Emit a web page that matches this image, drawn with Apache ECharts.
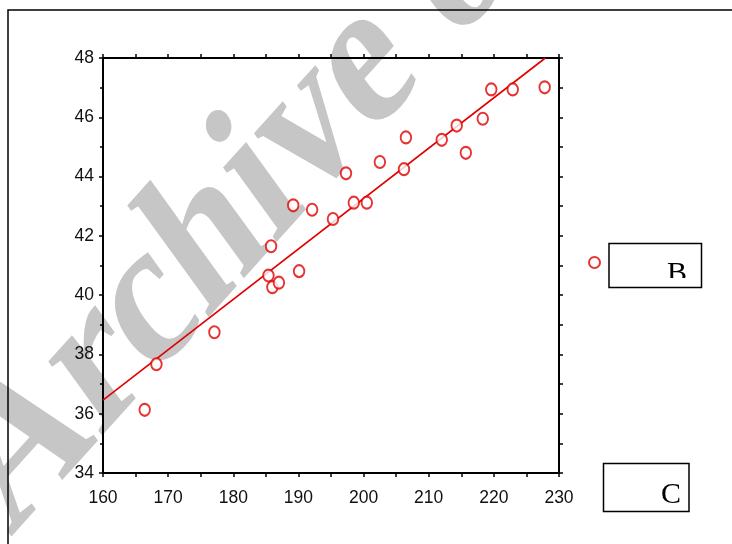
<!DOCTYPE html>
<html>
<head>
<meta charset="utf-8">
<script src="https://cdn.jsdelivr.net/npm/echarts@6/dist/echarts.min.js"></script>
<style>
html,body{margin:0;padding:0;background:#fff;}
#chart{width:732px;height:544px;}
</style>
</head>
<body>
<div id="chart"></div>
<script>
// Scatter observations
const xValues = [166.4, 168.2, 177.1, 185.8, 185.4, 186.0, 187.0, 189.2, 190.1, 192.1, 195.3, 197.3, 198.5, 200.5, 202.5, 206.2, 206.5, 212.0, 214.3, 215.7, 218.3, 219.6, 222.9, 227.8];
const yValues = [36.13, 37.67, 38.75, 41.65, 40.66, 40.27, 40.42, 43.03, 40.81, 42.88, 42.57, 44.11, 43.12, 43.12, 44.49, 44.25, 45.32, 45.24, 45.72, 44.80, 45.95, 46.94, 46.94, 47.01];
// Fitted line end points
const lineX = [160, 227.9];
const lineY = [36.46, 48];
// Box labels
const boxLabels = ['B', 'C'];
const watermarkText = 'Archive of SID';

const RED = '#e00000';
const labelFont = '"Liberation Sans Narrow", "Arial Narrow", "Liberation Sans", Arial, sans-serif';

const chart = echarts.init(document.getElementById('chart'), null, {renderer: 'canvas'});

const axisCommon = {
  type: 'value',
  axisLine: {show: true, onZero: false, lineStyle: {color: '#000', width: 2}},
  splitLine: {show: false},
  axisTick: {show: true, inside: false, length: 4, lineStyle: {color: '#000', width: 1.5}},
};

const theta = 48 * Math.PI / 180;

const option = {
  animation: false,
  backgroundColor: '#fff',
  grid: {left: 103, top: 58, right: 173, bottom: 71, containLabel: false},
  legend: {
    show: true,
    left: 588,
    top: 256,
    selectedMode: false,
    itemWidth: 11,
    itemHeight: 12,
    itemGap: 0,
    padding: 0,
    data: [{name: 'obs', icon: 'emptyCircle'}],
    formatter: function () { return ''; },
    textStyle: {fontSize: 1}
  },
  xAxis: [
    Object.assign({}, axisCommon, {
      position: 'bottom', min: 160, max: 230, interval: 10,
      minorTick: {show: true, splitNumber: 2, length: 4, lineStyle: {color: '#000', width: 1.5}},
      axisLabel: {show: true, margin: 16, color: '#111', fontSize: 17.5, fontFamily: labelFont}
    }),
    Object.assign({}, axisCommon, {
      position: 'top', min: 160, max: 230, interval: 5,
      axisLabel: {show: false}
    })
  ],
  yAxis: [
    Object.assign({}, axisCommon, {
      position: 'left', min: 34, max: 48, interval: 2,
      minorTick: {show: true, splitNumber: 2, length: 3, lineStyle: {color: '#000', width: 1.5}},
      axisLabel: {show: true, margin: 9, color: '#111', fontSize: 17.5, fontFamily: labelFont}
    }),
    Object.assign({}, axisCommon, {
      position: 'right', min: 34, max: 48, interval: 1,
      axisLabel: {show: false}
    })
  ],
  series: [
    {
      name: 'fit',
      type: 'line',
      xAxisIndex: 0, yAxisIndex: 0,
      data: lineX.map((x, i) => [x, lineY[i]]),
      symbol: 'none',
      lineStyle: {color: RED, width: 1.6},
      z: 3,
      silent: true
    },
    {
      name: 'obs',
      type: 'scatter',
      xAxisIndex: 0, yAxisIndex: 0,
      data: xValues.map((x, i) => [x, yValues[i]]),
      symbol: 'emptyCircle',
      symbolSize: [10.5, 12],
      itemStyle: {color: RED, borderColor: RED, borderWidth: 2.2},
      z: 4
    }
  ],
  graphic: [
    // outer frame
    {type: 'rect', z: 1, shape: {x: 8, y: 10, width: 760, height: 580},
     style: {fill: 'none', stroke: '#000', lineWidth: 1.5}},
    // watermark
    {type: 'text', z: -10, x: -20, y: 496, rotation: theta, skewX: -0.21, scaleX: 0.94,
     style: {text: watermarkText, fontWeight: 'bold', fontSize: 195,
             fontFamily: '"Liberation Serif", "Times New Roman", serif',
             fill: '#c6c6c6', align: 'left', verticalAlign: 'middle'}},
    // box B
    {type: 'text', z: 20, x: 667, y: 289,
     style: {text: boxLabels[0], fontSize: 30, fontFamily: '"Liberation Serif", serif', fill: '#000', align: 'left', verticalAlign: 'bottom'}},
    {type: 'rect', z: 21, shape: {x: 610, y: 278, width: 91, height: 9}, style: {fill: '#fff'}},
    {type: 'rect', z: 22, shape: {x: 609, y: 243.5, width: 92.5, height: 44},
     style: {fill: 'none', stroke: '#000', lineWidth: 1.5}},
    // box C
    {type: 'text', z: 20, x: 661, y: 510,
     style: {text: boxLabels[1], fontSize: 30, fontFamily: '"Liberation Serif", serif', fill: '#000', align: 'left', verticalAlign: 'bottom'}},
    {type: 'rect', z: 22, shape: {x: 603.5, y: 463.5, width: 85.5, height: 48},
     style: {fill: 'none', stroke: '#000', lineWidth: 1.5}}
  ]
};
chart.setOption(option);
</script>
</body>
</html>
